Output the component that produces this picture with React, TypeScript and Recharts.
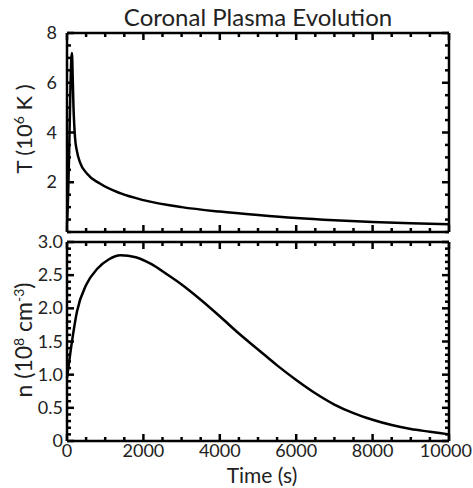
import React from 'react';
import { LineChart, Line, XAxis, YAxis } from 'recharts';

// ---- data ----
const tempTime = [0, 30, 60, 90, 115, 130, 150, 170, 190, 210, 260, 340, 520, 860, 1390, 2000, 3000, 4000, 5000, 6000, 7000, 8000, 9000, 10000];
const tempValue = [0.3, 1.5, 3.5, 5.8, 7.0, 7.2, 6.2, 5.0, 4.3, 3.8, 3.25, 2.8, 2.35, 1.95, 1.56, 1.28, 1.0, 0.82, 0.68, 0.56, 0.47, 0.4, 0.35, 0.31];

const densTime = [0, 30, 130, 260, 500, 800, 1100, 1400, 1800, 2200, 2600, 3000, 3500, 4000, 4500, 5000, 5500, 6000, 6500, 7000, 7500, 8000, 8500, 9000, 9500, 10000];
const densValue = [0.95, 1.08, 1.5, 1.95, 2.35, 2.6, 2.74, 2.8, 2.77, 2.67, 2.52, 2.36, 2.13, 1.88, 1.62, 1.38, 1.14, 0.92, 0.72, 0.55, 0.42, 0.32, 0.24, 0.18, 0.14, 0.1];

const timeMajorTicks = [0, 2000, 4000, 6000, 8000, 10000];
const timeMinorStep = 500;
const tempMajorTicks = [2, 4, 6, 8];
const tempMinorStep = 0.5;
const densMajorTicks = [0, 0.5, 1.0, 1.5, 2.0, 2.5, 3.0];
const densMajorLabels = ['0', '0.5', '1.0', '1.5', '2.0', '2.5', '3.0'];
const densMinorStep = 0.1;

const TITLE = 'Coronal Plasma Evolution';

const FONT = 'Lato, "Open Sans", sans-serif';

const tempData = tempTime.map((t, i) => ({ t, v: tempValue[i] }));
const densData = densTime.map((t, i) => ({ t, v: densValue[i] }));

function stepTicks(min: number, max: number, step: number): number[] {
  const out: number[] = [];
  const n = Math.round((max - min) / step);
  for (let i = 0; i <= n; i++) out.push(+(min + i * step).toFixed(6));
  return out;
}

const isOn = (v: number, list: number[]) => list.some((m) => Math.abs(m - v) < 1e-6);

type Side = 'bottom' | 'top' | 'left' | 'right';

const AxisTick = (props: any) => {
  const { x, y, payload, side, majors, labelOf, gap, lastValue } = props;
  const v = Number(payload.value);
  const px = Number(x);
  const py = Number(y);
  const major = isOn(v, majors);
  const len = major ? 7 : 4;
  let x2 = px, y2 = py;
  if (side === 'bottom') y2 = py - len;
  if (side === 'top') y2 = py + len;
  if (side === 'left') x2 = px + len;
  if (side === 'right') x2 = px - len;
  const label = major && labelOf ? labelOf(v) : null;
  const isLast = lastValue !== undefined && Math.abs(v - lastValue) < 1e-6;
  return (
    <g>
      <path d={`M${px},${py}L${x2},${y2}`} stroke="#000" strokeWidth={2.5} fill="none" />
      {label !== null && side === 'bottom' && (
        <text x={isLast ? px + 23 : px} y={py + 16} textAnchor={isLast ? 'end' : 'middle'} fontSize={18} fontFamily={FONT} fill="#222">{label}</text>
      )}
      {label !== null && side === 'left' && (
        <text x={px - gap} y={py + 6} textAnchor="end" fontSize={18} fontFamily={FONT} fill="#222">{label}</text>
      )}
    </g>
  );
};

function tickFor(side: Side, majors: number[], labelOf: ((v: number) => string | null) | null, gap: number, lastValue?: number) {
  return (p: any) => <AxisTick {...p} side={side} majors={majors} labelOf={labelOf} gap={gap} lastValue={lastValue} />;
}

const axisLine = { stroke: '#000', strokeWidth: 2.5 };

const timeTicks = stepTicks(0, 10000, timeMinorStep);
const tempTicks = stepTicks(0, 8, tempMinorStep);
const densTicks = stepTicks(0, 3, densMinorStep);

function Panel(props: {
  data: { t: number; v: number }[];
  height: number;
  margin: { top: number; bottom: number; left: number; right: number };
  yDomain: [number, number];
  yTicks: number[];
  yMajors: number[];
  yLabel: (v: number) => string | null;
  yGap: number;
  showX: boolean;
}) {
  const { data, height, margin, yDomain, yTicks, yMajors, yLabel, yGap, showX } = props;
  return (
    <LineChart width={473} height={height} data={data} margin={margin}>
      <XAxis xAxisId="b" dataKey="t" type="number" domain={[0, 10000]} ticks={timeTicks} interval={0}
        orientation="bottom" height={1} tickSize={0} tickMargin={0} tickLine={false} axisLine={axisLine}
        tick={tickFor('bottom', timeMajorTicks, showX ? (v) => String(v) : null, 0, 10000)} />
      <XAxis xAxisId="t" dataKey="t" type="number" domain={[0, 10000]} ticks={timeTicks} interval={0}
        orientation="top" height={1} tickSize={0} tickMargin={0} tickLine={false} axisLine={axisLine}
        tick={tickFor('top', timeMajorTicks, null, 0)} />
      <YAxis yAxisId="l" type="number" domain={yDomain} ticks={yTicks} interval={0} allowDataOverflow
        orientation="left" width={1} tickSize={0} tickMargin={0} tickLine={false} axisLine={axisLine}
        tick={tickFor('left', yMajors, yLabel, yGap)} />
      <YAxis yAxisId="r" type="number" domain={yDomain} ticks={yTicks} interval={0} allowDataOverflow
        orientation="right" width={1} tickSize={0} tickMargin={0} tickLine={false} axisLine={axisLine}
        tick={tickFor('right', yMajors, null, 0)} />
      <Line xAxisId="b" yAxisId="l" dataKey="v" type="monotone" stroke="#000" strokeWidth={2.5}
        dot={false} isAnimationActive={false} />
    </LineChart>
  );
}

export default function App() {
  return (
    <div style={{ position: 'absolute', left: 0, top: 0, width: 473, height: 488, background: '#fff', overflow: 'hidden' }}>
      <div style={{ position: 'absolute', left: 0, top: 0 }}>
        <Panel data={tempData} height={240} margin={{ top: 32, bottom: 7, left: 66, right: 23 }}
          yDomain={[0, 8]} yTicks={tempTicks} yMajors={tempMajorTicks}
          yLabel={(v) => (v === 0 ? null : String(v))} yGap={10} showX={false} />
      </div>
      <div style={{ position: 'absolute', left: 0, top: 232 }}>
        <Panel data={densData} height={256} margin={{ top: 9, bottom: 46, left: 66, right: 23 }}
          yDomain={[0, 3]} yTicks={densTicks} yMajors={densMajorTicks}
          yLabel={(v) => { const i = densMajorTicks.findIndex((m) => Math.abs(m - v) < 1e-6); return i >= 0 ? densMajorLabels[i] : null; }}
          yGap={4} showX={true} />
      </div>
      <svg width={473} height={488} style={{ position: 'absolute', left: 0, top: 0, pointerEvents: 'none' }}>
        <text x={258} y={26} textAnchor="middle" fontSize={24} fontFamily={FONT} fill="#222">{TITLE}</text>
        <text transform="translate(32,129) rotate(-90)" textAnchor="middle" fontSize={22} fontFamily={FONT} fill="#222">
          <tspan>T  (10</tspan><tspan fontSize={14} dy={-8}>6</tspan><tspan dy={8}> K )</tspan>
        </text>
        <text transform="translate(32,340) rotate(-90)" textAnchor="middle" fontSize={23} fontFamily={FONT} fill="#222">
          <tspan>n  (10</tspan><tspan fontSize={14} dy={-8}>8</tspan><tspan dy={8}> cm</tspan><tspan fontSize={14} dy={-8}>-3</tspan><tspan dy={8}>)</tspan>
        </text>
        <text x={262} y={483} textAnchor="middle" fontSize={21} fontFamily={FONT} fill="#222">Time (s)</text>
      </svg>
    </div>
  );
}
